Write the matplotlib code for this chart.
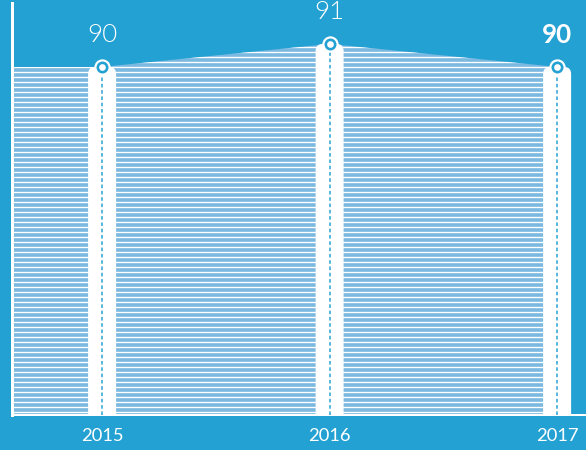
import matplotlib.pyplot as plt
from matplotlib.patches import FancyBboxPatch
import numpy as np

years = ["2015", "2016", "2017"]
scores = [90, 91, 90]
label_bold = [False, False, True]

BG = "#24a1d3"
AREA = "#7cb9e1"

plt.rcParams["font.family"] = ["Lato", "DejaVu Sans"]
plt.rcParams["hatch.linewidth"] = 0.8

DPI = 120
fig = plt.figure(figsize=(586 / DPI, 450 / DPI), dpi=DPI, facecolor=BG)
ax = fig.add_axes([12 / 586, 35 / 450, 574 / 586, 412 / 450])
ax.set_facecolor(BG)

x = np.arange(len(years))
ax.set_xlim(-0.396, 2.127)
ax.set_ylim(74.87, 92.78)
ylow, yhigh = ax.get_ylim()
xlow, xhigh = ax.get_xlim()

# striped area, carried flat to the left edge
xa = np.concatenate([[xlow], x])
ya = np.concatenate([[scores[0]], scores])
ax.fill_between(xa, ylow - 1, ya, facecolor=AREA, edgecolor="white",
                hatch="----", linewidth=0, zorder=1)

# rounded white bars
dx_px = (xhigh - xlow) / 574
dy_px = (yhigh - ylow) / 412
bw = 28 * dx_px
for xi, v in zip(x, scores):
    box = FancyBboxPatch((xi - bw / 2, ylow - 2), bw, v - ylow + 2,
                         boxstyle="round,pad=0,rounding_size=%f" % (7 * dx_px),
                         mutation_aspect=dy_px / dx_px,
                         facecolor="white", edgecolor="none", zorder=2)
    ax.add_patch(box)

ax.vlines(x, ylow, scores, colors=BG, linewidth=0.9,
          linestyles=(0, (2.4, 1.8)), zorder=3)
ax.plot(x, scores, "o", ms=8.5, mfc=BG, mec="white", mew=1.3, zorder=4)
ax.plot(x, scores, "o", ms=3, mfc="white", mec="white", zorder=5)

for xi, v, b in zip(x, scores, label_bold):
    ax.annotate(str(v), (xi, v), xytext=(0, 19), textcoords="offset points",
                ha="center", va="center", color="white", fontsize=15.5,
                fontweight="bold" if b else 300)

ax.set_xticks(x)
ax.set_xticklabels(years, color="white", fontsize=11)
ax.tick_params(axis="x", length=0, pad=8)
ax.set_yticks([])
for s in ["top", "right"]:
    ax.spines[s].set_visible(False)
ax.spines["left"].set_color("white")
ax.spines["left"].set_linewidth(1.8)
ax.spines["bottom"].set_color("white")
ax.spines["bottom"].set_linewidth(1.2)

fig.savefig("out.png", dpi=DPI, facecolor=BG)
